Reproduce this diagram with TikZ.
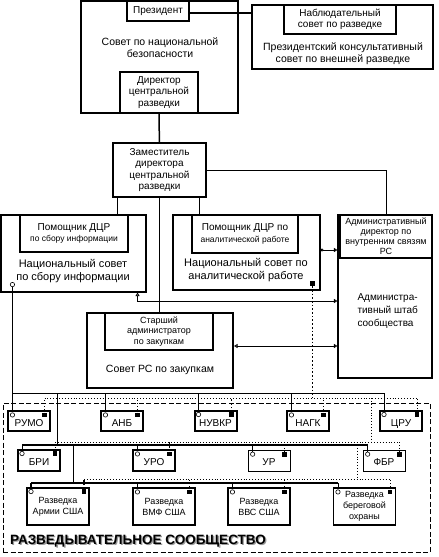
\documentclass[tikz,border=0pt]{standalone}
\usepackage{fontspec}
\setmainfont{Liberation Sans}
\usetikzlibrary{arrows.meta,positioning}
\begin{document}
\begin{tikzpicture}[x=1pt,y=-1pt,font=\fontsize{10}{11.5}\selectfont,
 box/.style={draw,line width=1.1pt,inner sep=1pt,align=center},
 heavy/.style={box,line width=2pt},
 light/.style={box,line width=0.7pt},
 wh/.style 2 args={minimum width=#1pt,minimum height=#2pt},
 agency/.style={wh={42}{20},text height=10pt,text depth=0pt},
 branch/.style={wh={62}{37},font=\fontsize{9}{11}\selectfont},
 caption/.style={align=center,font=\fontsize{10.5}{12}\selectfont},
 port/.style={circle,draw,fill=white,line width=0.6pt,inner sep=0pt,minimum size=4.4pt},
 sink/.style={fill=black,inner sep=0pt,minimum size=4.8pt},
 link/.style={line width=0.8pt},
 dots/.style={line width=0.9pt,dotted},
 bold dots/.style={line width=1.7pt,dotted},
 tips/.style={{Triangle[open,length=3.5pt,width=4pt]}-{Triangle[open,length=3.5pt,width=4pt]}},
 title/.style={font=\fontsize{13.5}{15}\selectfont\bfseries}]
\useasboundingbox (0,0) rectangle (439,557);
\node[draw,line width=0.7pt,dash pattern=on 5pt off 2.5pt,wh={427}{149}] (ic) at (216.5,477.5) {};
\node[title,text=black!40] (ic-sh) at (139.3,542.3) {РАЗВЕДЫВАТЕЛЬНОЕ СООБЩЕСТВО};
\node[title] (ic-t) at (138,541) {РАЗВЕДЫВАТЕЛЬНОЕ СООБЩЕСТВО};
\node[heavy,wh={157}{112}] (nsc) at (159.5,57) {};
\node[caption] (nsc-t) at (160,48) {Совет по национальной\\безопасности};
\node[box,wh={62}{20}] (pres) at (158,11) {Президент};
\node[heavy,wh={78}{41}] (dci) at (159,92.5) {Директор\\центральной\\разведки};
\node[heavy,wh={181}{64}] (pfiab) at (342.5,37) {};
\node[caption] (pfiab-t) at (343,54) {Президентский консультативный\\совет по внешней разведке};
\node[box,wh={112}{29}] (iob) at (340,19.5) {Наблюдательный\\совет по разведке};
\node[box,wh={93}{54}] (ddci) at (159.5,170) {Заместитель\\директора\\центральной\\разведки};
\node[box,wh={145}{77}] (ncc) at (73.5,253.5) {};
\node[box,wh={108}{37}] (adci-c) at (74,233.5) {Помощник ДЦР\\{\fontsize{8.5}{10}\selectfont по сбору информации}};
\node[caption,font=\fontsize{11}{12.5}\selectfont] (ncc-t) at (73,271) {Национальный совет\\по сбору информации};
\node[box,wh={147}{75}] (nca) at (246.5,252.5) {};
\node[box,wh={106}{38}] (adci-a) at (245,234) {Помощник ДЦР по\\{\fontsize{8.5}{10}\selectfont аналитической работе}};
\node[caption,font=\fontsize{11}{12.5}\selectfont] (nca-t) at (246,270) {Национальный совет по\\аналитической работе};
\node[box,wh={94}{163}] (staff) at (385,296.5) {};
\node[heavy,wh={92}{43},font=\fontsize{9}{10}\selectfont] (adcm) at (386,236.5) {Административный\\директор по\\внутренним связям\\РС};
\node[align=left,anchor=west,font=\fontsize{10}{13}\selectfont] (staff-t) at (354,311) {Администра-\\тивный штаб\\сообщества};
\node[heavy,wh={146}{75}] (proc) at (160,350.5) {};
\node[box,wh={108}{37},font=\fontsize{9}{10.5}\selectfont] (sap) at (159,331.5) {Старший\\администратор\\по закупкам};
\node[font=\fontsize{10.5}{12}\selectfont] (proc-t) at (160,370) {Совет РС по закупкам};
\node[box,agency] (rumo) at (29,421) {РУМО};
\node[box,agency] (anb) at (122,421) {АНБ};
\node[heavy,agency] (nuvkr) at (215.5,421) {НУВКР};
\node[box,agency] (nagk) at (308,421) {НАГК};
\node[heavy,agency] (cru) at (401,421) {ЦРУ};
\node[heavy,agency,wh={42}{21}] (bri) at (39,460.5) {БРИ};
\node[box,agency,wh={42}{21}] (uro) at (154,460.5) {УРО};
\node[light,agency,wh={42}{21}] (ur) at (269,460.5) {УР};
\node[light,agency,wh={42}{21}] (fbr) at (384,460.5) {ФБР};
\node[heavy,branch] (army) at (58,506.5) {Разведка\\Армии США};
\node[box,branch] (navy) at (164,506.5) {Разведка\\ВМФ США};
\node[box,branch] (af) at (259,506.5) {Разведка\\ВВС США};
\node[box,branch] (cg) at (364.5,506.5) {Разведка\\береговой\\охраны};
\foreach \n in {rumo,anb,nuvkr,nagk,cru,bri,uro,ur,fbr,army,navy,af,cg}{
 \node[port] (\n-o) at ([shift={(5,4.5)}]\n.north west) {};
 \node[sink] (\n-s) at ([shift={(-6,4.5)}]\n.north east) {};}
\node[port] (ncc-o) at ([shift={(12,-8)}]ncc.south west) {};
\node[sink] (nca-s) at ([shift={(-8,-7)}]nca.south east) {};
\coordinate (sbus1) at (0,393); \coordinate (dbus1) at (0,398);
\coordinate (sbus2) at (0,445); \coordinate (dbus2) at (0,442);
\coordinate (sbus3) at (0,483); \coordinate (dbus3) at (0,479);
\coordinate (j1) at (57,393); \coordinate (k1) at (371,398);
\coordinate (j2) at (73,445); \coordinate (k2) at (357,442);
\draw[line width=1.2pt] ([yshift=-2pt]pres.east) -- ([yshift=-2pt]pres.east -| pfiab.west);
\draw[line width=1.5pt] (dci) -- (ddci);
\draw[link] ([xshift=5pt]ddci.south west) -- ([xshift=5pt]ddci.south west |- ncc.north);
\draw[link] ([xshift=-7pt]ddci.south east) -- ([xshift=-7pt]ddci.south east |- nca.north);
\draw[link] (ddci.east) -| (adcm.north);
\draw[link] (ddci.south) -- (ddci.south |- sap.north);
\draw[link,{Circle[open,length=3pt]}-{Triangle[open,length=3.5pt,width=4pt]}] ([yshift=2.5pt]nca.east) -- ([yshift=2.5pt]nca.east -| staff.west);
\draw[link,tips] ([xshift=-9pt]ncc.south east) |- ([yshift=-4.5pt]staff.west);
\draw[link,tips] ([yshift=4.5pt]proc.east) -- ([yshift=4.5pt]proc.east -| staff.west);
\draw[link] (ncc-o) -- (rumo-o);
\draw[link] (rumo-o |- sbus1) -- (cru-o |- sbus1);
\foreach \n in {anb,nuvkr,nagk,cru} \draw[link] (\n-o) -- (\n-o |- sbus1);
\draw[bold dots] (nca-s) -- (nca-s |- dbus1);
\draw[dots] (rumo-s |- dbus1) -- (cru-s |- dbus1);
\foreach \n in {rumo,anb,nagk,cru} \draw[dots] (\n-s) -- (\n-s |- dbus1);
\draw[bold dots] (nuvkr-s) -- (nuvkr-s |- dbus1);
\draw[link] (j1) -- (j1 |- sbus2); \draw[dots] (k1) -- (k1 |- dbus2);
\draw[line width=1.8pt] (bri-o |- sbus2) -- (fbr-o |- sbus2);
\foreach \n in {bri,uro,ur,fbr} \draw[link] (\n-o) -- (\n-o |- sbus2);
\draw[dots] (bri-s |- dbus2) -- (fbr-s |- dbus2);
\foreach \n in {bri,ur,fbr} \draw[dots] (\n-s) -- (\n-s |- dbus2);
\draw[bold dots] (uro-s) -- (uro-s |- dbus2);
\draw[link] (j2) -- (j2 |- sbus3); \draw[dots] (k2) -- (k2 |- dbus3);
\draw[line width=1.1pt] (army-o |- sbus3) -- (cg-o |- sbus3);
\draw[line width=1.8pt] (army-o) -- (army-o |- sbus3);
\foreach \n in {navy,af,cg} \draw[link] (\n-o) -- (\n-o |- sbus3);
\draw[dots] (army-s |- dbus3) -- (cg-s |- dbus3);
\draw[bold dots] (army-s) -- (army-s |- dbus3);
\foreach \n in {navy,af,cg} \draw[dots] (\n-s) -- (\n-s |- dbus3);
\end{tikzpicture}
\end{document}
